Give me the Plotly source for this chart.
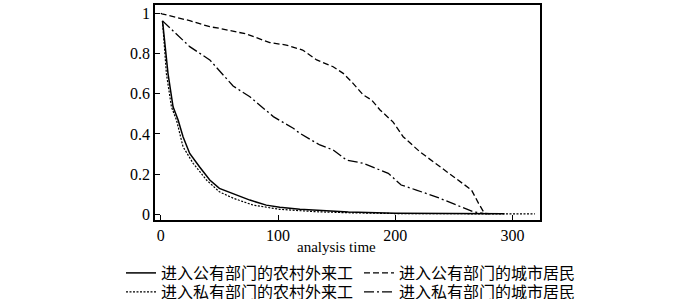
import plotly.graph_objects as go

# Rural migrants, public sector (solid)
t_rural_pub = [1.5, 6.2, 10.5, 14.8, 19, 24.7, 33, 41.8, 50, 62, 76, 90, 101.5, 118.6, 147, 160, 200, 240, 293]
s_rural_pub = [0.962, 0.70, 0.535, 0.469, 0.386, 0.303, 0.237, 0.171, 0.129, 0.104, 0.071, 0.046, 0.035, 0.025, 0.016, 0.012, 0.006, 0.004, 0.003]

# Rural migrants, private sector (dotted)
t_rural_pri = [1.5, 4.8, 9.1, 13.4, 19, 27.6, 39, 50, 62, 78.8, 101.5, 133, 160, 200, 260, 319]
s_rural_pri = [0.962, 0.70, 0.535, 0.469, 0.336, 0.254, 0.171, 0.112, 0.08, 0.046, 0.025, 0.013, 0.008, 0.004, 0.003, 0.002]

# Urban residents, public sector (dashed)
t_urban_pub = [0, 1, 24.7, 41.8, 50, 64.6, 73, 93, 107, 121, 133, 147, 155.6, 162.7, 172.6, 179.8, 187, 198, 206.7, 221, 238, 249, 265, 271, 276, 280]
s_urban_pub = [1.0, 0.997, 0.963, 0.933, 0.925, 0.905, 0.897, 0.854, 0.842, 0.817, 0.768, 0.734, 0.701, 0.66, 0.594, 0.569, 0.519, 0.46, 0.386, 0.311, 0.237, 0.187, 0.121, 0.055, 0.005, 0.003]

# Urban residents, private sector (dash-dot)
t_urban_pri = [1.5, 24.7, 41.8, 61.7, 76, 96, 113, 118.6, 135.7, 147, 158.4, 172.6, 194, 205, 218, 238, 266.5, 275]
s_urban_pri = [0.962, 0.834, 0.768, 0.638, 0.585, 0.486, 0.428, 0.403, 0.345, 0.32, 0.27, 0.254, 0.204, 0.146, 0.121, 0.08, 0.013, 0.005]

legend_names = ["进入公有部门的农村外来工", "进入公有部门的城市居民",
                "进入私有部门的农村外来工", "进入私有部门的城市居民"]

x_ticks = [0, 100, 200, 300]
y_ticks = [0, 0.2, 0.4, 0.6, 0.8, 1]
y_tick_labels = ["0", "0.2", "0.4", "0.6", "0.8", "1"]

W, H = 700, 299
serif = "Liberation Serif, Times New Roman, serif"
cjk = "Noto Sans CJK SC"

fig = go.Figure()
fig.add_trace(go.Scatter(x=t_rural_pub, y=s_rural_pub, mode="lines", name=legend_names[0],
                         legend="legend",
                         line=dict(color="black", width=1.5, dash="solid")))
fig.add_trace(go.Scatter(x=t_urban_pub, y=s_urban_pub, mode="lines", name=legend_names[1],
                         legend="legend2",
                         line=dict(color="black", width=1.3, dash="6px,3px")))
fig.add_trace(go.Scatter(x=t_rural_pri, y=s_rural_pri, mode="lines", name=legend_names[2],
                         legend="legend3",
                         line=dict(color="black", width=1.2, dash="2px,1.5px")))
fig.add_trace(go.Scatter(x=t_urban_pri, y=s_urban_pri, mode="lines", name=legend_names[3],
                         legend="legend4",
                         line=dict(color="black", width=1.3, dash="10px,3px,2px,3px")))


def leg(px_left, px_top):
    return dict(
        xref="container", yref="container",
        x=px_left / W, xanchor="left",
        y=1 - px_top / H, yanchor="top",
        font=dict(family=cjk, size=16, color="black"),
        bgcolor="rgba(0,0,0,0)", borderwidth=0,
    )


plot_top, plot_bottom = 5, 220
fig.update_layout(
    width=W, height=H,
    margin=dict(l=155, r=160, t=5, b=79, autoexpand=False),
    paper_bgcolor="white", plot_bgcolor="white",
    font=dict(family=serif, size=16, color="black"),
    showlegend=True,
    legend=leg(121, 256),
    legend2=leg(359, 256),
    legend3=leg(121, 275),
    legend4=leg(359, 275),
    annotations=[dict(text="analysis time", x=150, xref="x",
                      y=(plot_bottom - 247) / (plot_bottom - plot_top), yref="paper",
                      yanchor="middle", showarrow=False,
                      font=dict(family=serif, size=15, color="black"))],
)

fig.update_xaxes(range=[-4.9, 323.4], tickvals=x_ticks, ticks="inside", ticklen=5,
                 tickcolor="black", showline=True, linecolor="black", linewidth=1.5,
                 mirror=True, showgrid=False, zeroline=False, automargin=False)
fig.update_yaxes(range=[-0.028, 1.041], tickvals=y_ticks, ticktext=y_tick_labels,
                 ticks="inside", ticklen=5, tickcolor="black", showline=True,
                 linecolor="black", linewidth=1.5, mirror=True, showgrid=False,
                 zeroline=False, automargin=False)

fig.write_html("out.html", config={"displayModeBar": False},
               post_script="document.body.style.margin='0';document.body.style.overflow='hidden';")
